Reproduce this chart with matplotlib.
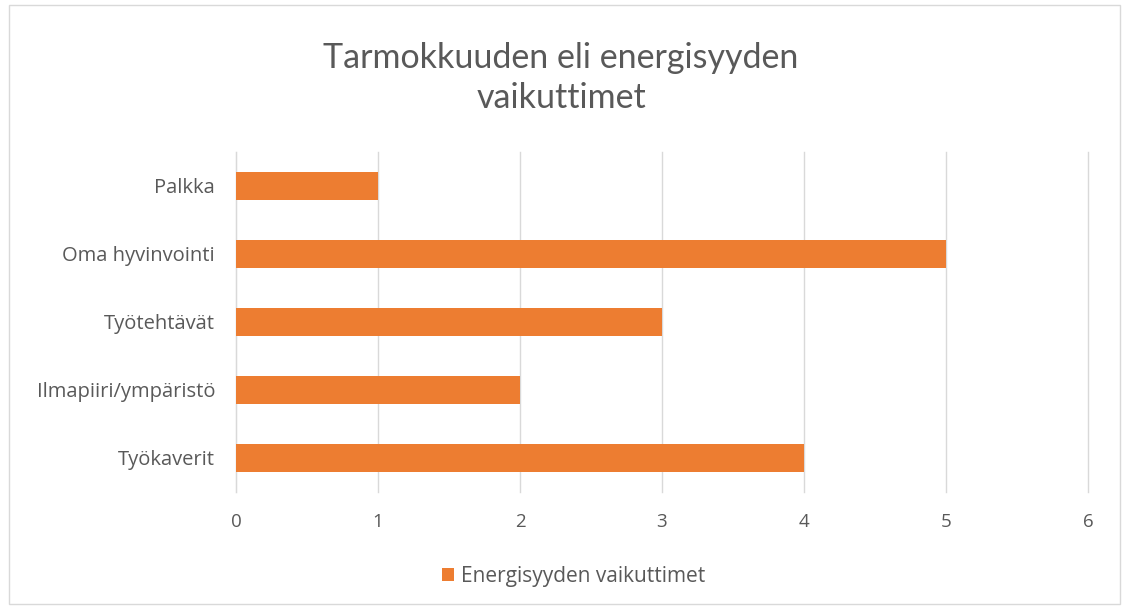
import matplotlib.pyplot as plt
from matplotlib.patches import Rectangle

categories = ['Työkaverit', 'Ilmapiiri/ympäristö', 'Työtehtävät', 'Oma hyvinvointi', 'Palkka']
values = [4, 2, 3, 5, 1]
series_name = 'Energisyyden vaikuttimet'
title = 'Tarmokkuuden eli energisyyden\nvaikuttimet'

plt.rcParams['font.family'] = ['Open Sans', 'DejaVu Sans']
txt = '#595959'

fig = plt.figure(figsize=(11.22, 6.08), dpi=100)
fig.patches.append(Rectangle((0.008, 0.006), 0.99, 0.985, transform=fig.transFigure,
                             fill=False, edgecolor='#D9D9D9', linewidth=1))

ax = fig.add_axes([0.2103, 0.1908, 0.7594, 0.5592])
ax.barh(range(len(categories)), values, height=0.4, color='#ED7D31', label=series_name, zorder=3)
ax.set_xlim(0, 6)
ax.set_ylim(-0.5, len(categories) - 0.5)
ax.set_xticks(range(7))
ax.set_yticks(range(len(categories)))
ax.set_yticklabels(categories)
ax.grid(axis='x', color='#D9D9D9', linewidth=1, zorder=0)
for line in ax.get_xgridlines():
    line.set_clip_on(False)
for s in ['top', 'right', 'bottom']:
    ax.spines[s].set_visible(False)
ax.spines['left'].set_color('#D9D9D9')
ax.tick_params(axis='x', length=0, labelsize=13.5, labelcolor=txt, pad=15)
ax.tick_params(axis='y', length=0, labelsize=14.5, labelcolor=txt, pad=15)

fig.text(0.5, 0.872, title, ha='center', va='center', fontsize=24.5, color=txt,
         linespacing=1.3, family=['Lato', 'DejaVu Sans'])

fig.legend(loc='center', bbox_to_anchor=(0.511, 0.052), frameon=False, fontsize=15,
           labelcolor=txt, handlelength=0.6, handleheight=0.6, handletextpad=0.3)

fig.savefig('out.png', dpi=100)
